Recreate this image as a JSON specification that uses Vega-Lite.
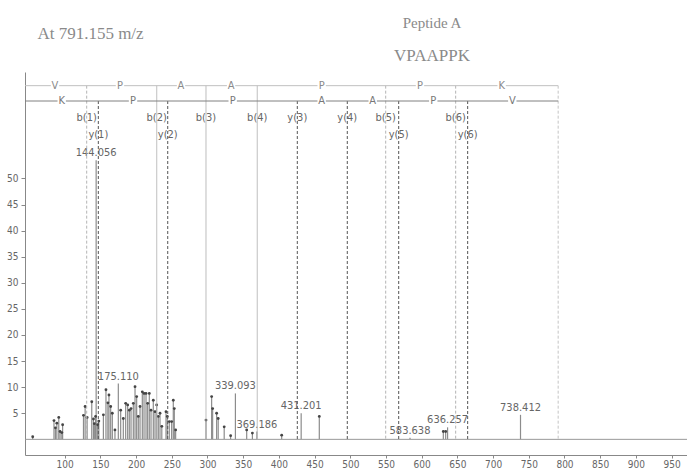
{
  "$schema": "https://vega.github.io/schema/vega-lite/v6.json",
  "width": 662,
  "height": 383,
  "autosize": "none",
  "padding": {"left": 25, "top": 72, "right": 0, "bottom": 15},
  "background": "white",
  "config": {
    "view": {"stroke": null},
    "axisX": {"labelOverlap": false, "labelFlush": false, "labelBound": false, "grid": false, "domainColor": "#888", "tickColor": "#888", "tickSize": 3, "labelPadding": 1, "labelFont": "DejaVu Sans Condensed, Liberation Sans", "labelFontSize": 10, "labelColor": "#666"},
    "axisY": {"labelOverlap": false, "grid": false, "domainColor": "#888", "tickColor": "#888", "tickSize": 4, "labelPadding": 3, "labelFont": "DejaVu Sans Condensed, Liberation Sans", "labelFontSize": 10, "labelColor": "#666"}
  },
  "title": {
    "text": "Peptide A",
    "subtitle": "VPAAPPK",
    "anchor": "middle",
    "frame": "group",
    "dx": 76,
    "offset": -40,
    "font": "Liberation Serif",
    "fontSize": 15,
    "fontWeight": "normal",
    "color": "#8a8a8a",
    "subtitleFont": "Liberation Serif",
    "subtitleFontSize": 17,
    "subtitleColor": "#8a8a8a",
    "subtitlePadding": 17
  },
  "datasets": {
    "peaks": [
      {"mz": 55.2, "intensity": 0.5},
      {"mz": 85.0, "intensity": 3.6},
      {"mz": 87.0, "intensity": 2.2},
      {"mz": 89.0, "intensity": 3.1},
      {"mz": 91.7, "intensity": 4.2},
      {"mz": 93.5, "intensity": 1.5},
      {"mz": 96.0, "intensity": 1.3},
      {"mz": 97.1, "intensity": 2.8},
      {"mz": 126.3, "intensity": 4.6},
      {"mz": 128.6, "intensity": 6.3},
      {"mz": 131.4, "intensity": 4.2},
      {"mz": 137.9, "intensity": 7.2},
      {"mz": 140.3, "intensity": 3.9},
      {"mz": 141.5, "intensity": 3.0},
      {"mz": 143.3, "intensity": 4.4},
      {"mz": 144.056, "intensity": 53.5, "label": "144.056"},
      {"mz": 146.2, "intensity": 2.8},
      {"mz": 147.8, "intensity": 3.5},
      {"mz": 154.2, "intensity": 4.7},
      {"mz": 157.8, "intensity": 9.5},
      {"mz": 160.5, "intensity": 7.0},
      {"mz": 162.0, "intensity": 8.5},
      {"mz": 164.4, "intensity": 6.3},
      {"mz": 166.7, "intensity": 5.0},
      {"mz": 170.4, "intensity": 1.8},
      {"mz": 175.11, "intensity": 10.7, "label": "175.110"},
      {"mz": 178.4, "intensity": 5.6},
      {"mz": 182.1, "intensity": 4.0},
      {"mz": 185.4, "intensity": 6.9},
      {"mz": 188.2, "intensity": 6.6},
      {"mz": 190.5, "intensity": 5.6},
      {"mz": 192.9, "intensity": 5.9},
      {"mz": 196.1, "intensity": 6.9},
      {"mz": 198.5, "intensity": 10.1},
      {"mz": 200.8, "intensity": 8.2},
      {"mz": 203.1, "intensity": 4.4},
      {"mz": 205.5, "intensity": 6.3},
      {"mz": 208.7, "intensity": 9.1},
      {"mz": 211.1, "intensity": 8.8},
      {"mz": 213.9, "intensity": 8.8},
      {"mz": 216.2, "intensity": 6.9},
      {"mz": 218.5, "intensity": 8.8},
      {"mz": 220.9, "intensity": 5.6},
      {"mz": 224.1, "intensity": 7.5},
      {"mz": 226.5, "intensity": 5.3},
      {"mz": 228.8, "intensity": 6.6},
      {"mz": 231.1, "intensity": 4.4},
      {"mz": 233.5, "intensity": 5.0},
      {"mz": 236.0, "intensity": 2.5},
      {"mz": 241.9, "intensity": 5.3},
      {"mz": 243.7, "intensity": 4.4},
      {"mz": 246.5, "intensity": 3.4},
      {"mz": 249.8, "intensity": 3.4},
      {"mz": 252.1, "intensity": 7.5},
      {"mz": 253.5, "intensity": 5.9},
      {"mz": 255.4, "intensity": 1.8},
      {"mz": 297.9, "intensity": 3.7},
      {"mz": 305.8, "intensity": 8.2},
      {"mz": 307.2, "intensity": 5.9},
      {"mz": 312.8, "intensity": 5.0},
      {"mz": 315.0, "intensity": 4.0},
      {"mz": 323.4, "intensity": 2.4},
      {"mz": 332.4, "intensity": 0.7},
      {"mz": 339.093, "intensity": 8.8, "label": "339.093"},
      {"mz": 354.9, "intensity": 1.8},
      {"mz": 362.9, "intensity": 1.2},
      {"mz": 369.186, "intensity": 1.5, "label": "369.186"},
      {"mz": 403.9, "intensity": 0.8},
      {"mz": 431.201, "intensity": 5.0, "label": "431.201"},
      {"mz": 456.6, "intensity": 4.4},
      {"mz": 583.638, "intensity": 0.3, "label": "583.638"},
      {"mz": 630.3, "intensity": 1.5},
      {"mz": 633.6, "intensity": 1.5},
      {"mz": 636.257, "intensity": 2.3, "label": "636.257"},
      {"mz": 738.412, "intensity": 4.7, "label": "738.412"}
    ],
    "ions": [
      {"ion": "b(1)", "type": "b", "mz": 130.8, "match": "unmatched"},
      {"ion": "b(2)", "type": "b", "mz": 228.9, "match": "matched"},
      {"ion": "b(3)", "type": "b", "mz": 297.9, "match": "matched"},
      {"ion": "b(4)", "type": "b", "mz": 369.7, "match": "matched"},
      {"ion": "b(5)", "type": "b", "mz": 549.6, "match": "unmatched"},
      {"ion": "b(6)", "type": "b", "mz": 647.6, "match": "unmatched"},
      {"ion": "", "type": "precursor", "mz": 791.155, "match": "unmatched"},
      {"ion": "y(1)", "type": "y", "mz": 147.1, "match": "unmatched"},
      {"ion": "y(2)", "type": "y", "mz": 244.3, "match": "unmatched"},
      {"ion": "y(3)", "type": "y", "mz": 425.8, "match": "unmatched"},
      {"ion": "y(4)", "type": "y", "mz": 495.8, "match": "unmatched"},
      {"ion": "y(5)", "type": "y", "mz": 567.8, "match": "unmatched"},
      {"ion": "y(6)", "type": "y", "mz": 664.4, "match": "unmatched"}
    ],
    "residues": [
      {"strand": "N", "residue": "V", "mz": 86.4},
      {"strand": "N", "residue": "P", "mz": 177.4},
      {"strand": "N", "residue": "A", "mz": 262.9},
      {"strand": "N", "residue": "A", "mz": 333.0},
      {"strand": "N", "residue": "P", "mz": 459.9},
      {"strand": "N", "residue": "P", "mz": 597.6},
      {"strand": "N", "residue": "K", "mz": 712.0},
      {"strand": "C", "residue": "K", "mz": 95.8},
      {"strand": "C", "residue": "P", "mz": 195.7},
      {"strand": "C", "residue": "P", "mz": 335.3},
      {"strand": "C", "residue": "A", "mz": 459.9},
      {"strand": "C", "residue": "A", "mz": 531.4},
      {"strand": "C", "residue": "P", "mz": 616.2},
      {"strand": "C", "residue": "V", "mz": 726.9}
    ]
  },
  "layer": [
    {
      "data": {"name": "peaks"},
      "mark": {"type": "rule", "color": "#8c8c8c", "strokeWidth": 1.2},
      "encoding": {
        "x": {
          "field": "mz", "type": "quantitative", "title": null,
          "scale": {"domain": [44.4, 971.6], "nice": false, "zero": false},
          "axis": {"values": [100, 150, 200, 250, 300, 350, 400, 450, 500, 550, 600, 650, 700, 750, 800, 850, 900, 950], "labelOverlap": false}
        },
        "y": {
          "field": "intensity", "type": "quantitative", "title": "At 791.155 m/z",
          "scale": {"domain": [-3, 70.4], "nice": false, "zero": false},
          "axis": {
            "values": [5, 10, 15, 20, 25, 30, 35, 40, 45, 50],
            "titleAngle": 0, "titleX": 65, "titleY": -39,
            "titleAlign": "center", "titleBaseline": "middle",
            "titleFont": "Liberation Serif", "titleFontSize": 17, "titleFontWeight": "normal",
            "titleColor": "#8a8a8a"
          }
        },
        "y2": {"datum": 0}
      }
    },
    {
      "data": {"values": [{"strand": "baseline"}]},
      "mark": {"type": "rule", "color": "#999", "strokeWidth": 1},
      "encoding": {"y": {"datum": 0}}
    },
    {
      "data": {"name": "peaks"},
      "transform": [{"filter": "!isValid(datum.label)"}],
      "mark": {"type": "point", "filled": true, "size": 8, "color": "#444", "opacity": 1},
      "encoding": {
        "x": {"field": "mz", "type": "quantitative", "title": null, "axis": {"values": [100, 150, 200, 250, 300, 350, 400, 450, 500, 550, 600, 650, 700, 750, 800, 850, 900, 950], "labelOverlap": false}},
        "y": {"field": "intensity", "type": "quantitative", "title": "At 791.155 m/z"}
      }
    },
    {
      "data": {"name": "peaks"},
      "transform": [{"filter": "isValid(datum.label)"}],
      "mark": {"type": "text", "baseline": "bottom", "dy": -2, "font": "DejaVu Sans Condensed, Liberation Sans", "fontSize": 11, "color": "#666"},
      "encoding": {
        "x": {"field": "mz", "type": "quantitative", "title": null, "axis": {"values": [100, 150, 200, 250, 300, 350, 400, 450, 500, 550, 600, 650, 700, 750, 800, 850, 900, 950], "labelOverlap": false}},
        "y": {"field": "intensity", "type": "quantitative", "title": "At 791.155 m/z"},
        "text": {"field": "label"}
      }
    },
    {
      "data": {"name": "ions"},
      "transform": [{"filter": "datum.type !== 'y'"}],
      "mark": {"type": "rule", "strokeWidth": 1},
      "encoding": {
        "x": {"field": "mz", "type": "quantitative", "title": null, "axis": {"values": [100, 150, 200, 250, 300, 350, 400, 450, 500, 550, 600, 650, 700, 750, 800, 850, 900, 950], "labelOverlap": false}},
        "y": {"datum": 67.78},
        "y2": {"datum": 0},
        "color": {"field": "type", "type": "nominal", "legend": null,
          "scale": {"domain": ["b", "y", "precursor"], "range": ["#b4b4b4", "#555555", "#c4c4c4"]}},
        "strokeDash": {"field": "match", "type": "nominal", "legend": null,
          "scale": {"domain": ["matched", "unmatched"], "range": [[1, 0], [3, 2]]}}
      }
    },
    {
      "data": {"name": "ions"},
      "transform": [{"filter": "datum.type === 'y'"}],
      "mark": {"type": "rule", "strokeWidth": 1},
      "encoding": {
        "x": {"field": "mz", "type": "quantitative", "title": null, "axis": {"values": [100, 150, 200, 250, 300, 350, 400, 450, 500, 550, 600, 650, 700, 750, 800, 850, 900, 950], "labelOverlap": false}},
        "y": {"datum": 64.84},
        "y2": {"datum": 0},
        "color": {"field": "type", "type": "nominal", "legend": null},
        "strokeDash": {"field": "match", "type": "nominal", "legend": null}
      }
    },
    {
      "data": {"values": [{"strand": "N"}]},
      "mark": {"type": "rule", "color": "#c0c0c0", "strokeWidth": 1},
      "encoding": {"x": {"datum": 44.4, "axis": {"values": [100, 150, 200, 250, 300, 350, 400, 450, 500, 550, 600, 650, 700, 750, 800, 850, 900, 950], "labelOverlap": false}}, "x2": {"datum": 791.155}, "y": {"datum": 67.78}}
    },
    {
      "data": {"values": [{"strand": "C"}]},
      "mark": {"type": "rule", "color": "#808080", "strokeWidth": 1},
      "encoding": {"x": {"datum": 44.4, "axis": {"values": [100, 150, 200, 250, 300, 350, 400, 450, 500, 550, 600, 650, 700, 750, 800, 850, 900, 950], "labelOverlap": false}}, "x2": {"datum": 791.155}, "y": {"datum": 64.84}}
    },
    {
      "data": {"name": "residues"},
      "transform": [{"filter": "datum.strand === 'N'"}],
      "mark": {"type": "point", "shape": "square", "filled": true, "color": "white", "opacity": 1, "size": 70},
      "encoding": {"x": {"field": "mz", "type": "quantitative", "title": null, "axis": {"values": [100, 150, 200, 250, 300, 350, 400, 450, 500, 550, 600, 650, 700, 750, 800, 850, 900, 950], "labelOverlap": false}}, "y": {"datum": 67.78}}
    },
    {
      "data": {"name": "residues"},
      "transform": [{"filter": "datum.strand === 'C'"}],
      "mark": {"type": "point", "shape": "square", "filled": true, "color": "white", "opacity": 1, "size": 70},
      "encoding": {"x": {"field": "mz", "type": "quantitative", "title": null, "axis": {"values": [100, 150, 200, 250, 300, 350, 400, 450, 500, 550, 600, 650, 700, 750, 800, 850, 900, 950], "labelOverlap": false}}, "y": {"datum": 64.84}}
    },
    {
      "data": {"name": "residues"},
      "transform": [{"filter": "datum.strand === 'N'"}],
      "mark": {"type": "text", "font": "DejaVu Sans Condensed, Liberation Sans", "fontSize": 11, "color": "#8a8a8a", "baseline": "middle"},
      "encoding": {"x": {"field": "mz", "type": "quantitative", "title": null, "axis": {"values": [100, 150, 200, 250, 300, 350, 400, 450, 500, 550, 600, 650, 700, 750, 800, 850, 900, 950], "labelOverlap": false}}, "y": {"datum": 67.78}, "text": {"field": "residue"}}
    },
    {
      "data": {"name": "residues"},
      "transform": [{"filter": "datum.strand === 'C'"}],
      "mark": {"type": "text", "font": "DejaVu Sans Condensed, Liberation Sans", "fontSize": 11, "color": "#777", "baseline": "middle"},
      "encoding": {"x": {"field": "mz", "type": "quantitative", "title": null, "axis": {"values": [100, 150, 200, 250, 300, 350, 400, 450, 500, 550, 600, 650, 700, 750, 800, 850, 900, 950], "labelOverlap": false}}, "y": {"datum": 64.84}, "text": {"field": "residue"}}
    },
    {
      "data": {"name": "ions"},
      "transform": [{"filter": "datum.type === 'b' || indexof(['y(3)', 'y(4)'], datum.ion) >= 0"}],
      "mark": {"type": "text", "font": "DejaVu Sans Condensed, Liberation Sans", "fontSize": 11, "color": "#666", "baseline": "middle"},
      "encoding": {"x": {"field": "mz", "type": "quantitative", "title": null, "axis": {"values": [100, 150, 200, 250, 300, 350, 400, 450, 500, 550, 600, 650, 700, 750, 800, 850, 900, 950], "labelOverlap": false}}, "y": {"datum": 61.6}, "text": {"field": "ion"}}
    },
    {
      "data": {"name": "ions"},
      "transform": [{"filter": "datum.type === 'y' && indexof(['y(3)', 'y(4)'], datum.ion) < 0"}],
      "mark": {"type": "text", "font": "DejaVu Sans Condensed, Liberation Sans", "fontSize": 11, "color": "#666", "baseline": "middle"},
      "encoding": {"x": {"field": "mz", "type": "quantitative", "title": null, "axis": {"values": [100, 150, 200, 250, 300, 350, 400, 450, 500, 550, 600, 650, 700, 750, 800, 850, 900, 950], "labelOverlap": false}}, "y": {"datum": 58.3}, "text": {"field": "ion"}}
    }
  ]
}
